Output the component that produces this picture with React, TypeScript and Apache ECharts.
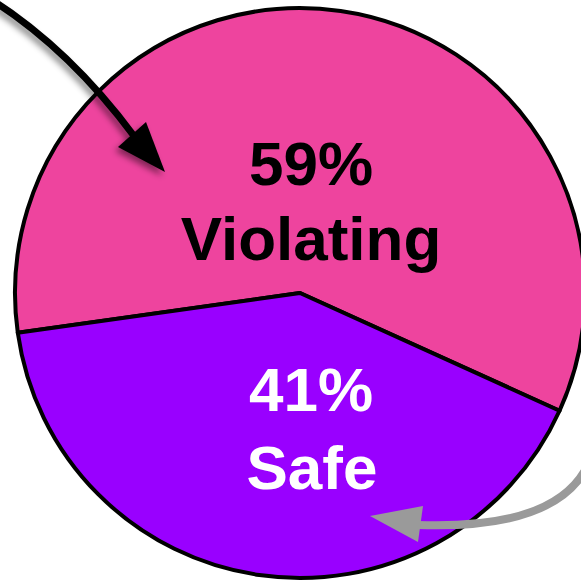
import React, { useEffect, useRef } from "react";
import * as echarts from "echarts";

const categories = ["Violating", "Safe"];
const values = [59, 41];
const sliceColors = ["#EE449E", "#9900FF"];
const labelColors = ["#000000", "#FFFFFF"];

export default function App() {
  const ref = useRef<HTMLDivElement>(null);
  useEffect(() => {
    document.body.style.margin = "0";
    const chart = echarts.init(ref.current!, null, { renderer: "svg" });
    const font = "'Liberation Sans', Arial, sans-serif";
    const textEl = (txt: string, x: number, y: number, color: string) => ({
      type: "text",
      x,
      y,
      z: 100,
      style: {
        text: txt,
        fill: color,
        font: `bold 62px ${font}`,
        align: "center",
        verticalAlign: "middle",
      },
    });
    const shadow = {
      shadowBlur: 6,
      shadowOffsetX: -3,
      shadowOffsetY: 4,
      shadowColor: "rgba(0,0,0,0.45)",
    };
    chart.setOption({
      animation: false,
      backgroundColor: "#ffffff",
      series: [
        {
          type: "pie",
          z: 1,
          center: [300, 293],
          radius: 285,
          startAngle: 188,
          clockwise: true,
          silent: true,
          label: { show: false },
          labelLine: { show: false },
          itemStyle: { borderColor: "#000000", borderWidth: 4 },
          data: categories.map((c, i) => ({
            name: c,
            value: values[i],
            itemStyle: { color: sliceColors[i] },
          })),
        },
      ],
      graphic: {
        elements: [
          textEl(`${values[0]}%`, 311, 163, labelColors[0]),
          textEl(categories[0], 311, 238, labelColors[0]),
          textEl(`${values[1]}%`, 311, 389, labelColors[1]),
          textEl(categories[1], 312, 467, labelColors[1]),
          {
            type: "bezierCurve",
            z: 100,
            shape: { x1: -8, y1: 0, cpx1: 70, cpy1: 50, x2: 134, y2: 136 },
            style: { stroke: "#000000", lineWidth: 7, fill: "none", ...shadow },
          },
          {
            type: "polygon",
            z: 100,
            shape: {
              points: [
                [165, 172],
                [118, 147],
                [146, 122],
              ],
            },
            style: { fill: "#000000", ...shadow },
          },
          {
            type: "bezierCurve",
            z: 100,
            shape: { x1: 590, y1: 460, cpx1: 562, cpy1: 530, x2: 418, y2: 525 },
            style: { stroke: "#9A9A9A", lineWidth: 8, fill: "none" },
          },
          {
            type: "polygon",
            z: 100,
            shape: {
              points: [
                [370, 516],
                [423, 506],
                [418, 542],
              ],
            },
            style: { fill: "#9A9A9A" },
          },
        ],
      },
    });
    return () => chart.dispose();
  }, []);
  return (
    <div
      ref={ref}
      style={{ position: "fixed", left: 0, top: 0, width: 581, height: 581 }}
    />
  );
}
